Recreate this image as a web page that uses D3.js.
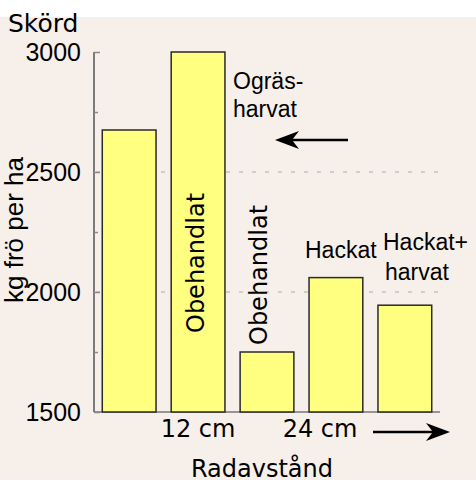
<!DOCTYPE html>
<html>
<head>
<meta charset="utf-8">
<script src="https://cdn.jsdelivr.net/npm/d3@7"></script>
<style>
  body { margin: 0; background: #fff; }
  svg { display: block; }
</style>
</head>
<body>
<div id="chart"></div>
<script>
// data
const categories = ["ograsharvat", "obeh12", "obeh24", "hackat", "hackatharvat"];
const yields = [2675, 3000, 1750, 2060, 1945];
const majorTicks = [1500, 2000, 2500, 3000];
const minorTicks = [1750, 2250, 2750];
const gridValues = [2000, 2500];

const W = 476, H = 488;
const comic = "'Comic Sans MS', 'DejaVu Sans', sans-serif";
const arial = "'Liberation Sans', Arial, sans-serif";

const svg = d3.select("#chart").append("svg")
  .attr("width", W)
  .attr("height", H);

svg.append("defs").append("clipPath").attr("id", "clip")
  .append("rect").attr("x", 0).attr("y", 0).attr("width", W).attr("height", 480);

svg.append("rect")
  .attr("x", 0).attr("y", 17).attr("width", W).attr("height", 463)
  .attr("fill", "#f7f0ea");

const g = svg.append("g").attr("clip-path", "url(#clip)");

const x = d3.scaleBand().domain(categories).range([94, 440]).paddingInner(0.22).paddingOuter(0.12);
const y = d3.scaleLinear().domain([1500, 3000]).range([412, 52]);

// gridlines
g.selectAll(".grid").data(gridValues).enter().append("line")
  .attr("x1", 96).attr("x2", 440)
  .attr("y1", d => y(d)).attr("y2", d => y(d))
  .attr("stroke", "#aaa").attr("stroke-width", 1)
  .attr("stroke-dasharray", "4,9");

// baseline
g.append("line")
  .attr("x1", 94).attr("x2", 440)
  .attr("y1", y(1500)).attr("y2", y(1500))
  .attr("stroke", "#777").attr("stroke-width", 1.5);

// y axis
const axisX = 94;
g.append("line")
  .attr("x1", axisX).attr("x2", axisX)
  .attr("y1", y(3000)).attr("y2", y(1500))
  .attr("stroke", "#555").attr("stroke-width", 1.5);

const major = g.append("g").attr("transform", `translate(${axisX},0)`)
  .call(d3.axisRight(y).tickValues(majorTicks).tickSize(6).tickFormat(""));
const minor = g.append("g").attr("transform", `translate(${axisX},0)`)
  .call(d3.axisRight(y).tickValues(minorTicks).tickSize(4).tickFormat(""));
[major, minor].forEach(a => {
  a.select(".domain").remove();
  a.selectAll("line").attr("stroke", "#888").attr("stroke-width", 1.5);
});

const labels = g.append("g").attr("transform", `translate(${axisX},0)`)
  .call(d3.axisLeft(y).tickValues(majorTicks).tickSize(0).tickPadding(13).tickFormat(d3.format("d")));
labels.select(".domain").remove();
labels.selectAll("text")
  .attr("fill", "#000")
  .style("font-family", arial)
  .style("font-size", "25px");

// bars
g.selectAll(".bar").data(yields).enter().append("rect")
  .attr("class", "bar")
  .attr("x", (d, i) => x(categories[i]))
  .attr("width", x.bandwidth())
  .attr("y", d => y(d))
  .attr("height", d => y(1500) - y(d))
  .attr("fill", "#ffff80")
  .attr("stroke", "#2a2a2a")
  .attr("stroke-width", 1.5);

// titles
g.append("text").attr("x", 8).attr("y", 32)
  .style("font-family", comic).style("font-size", "25px")
  .text("Skörd");

g.append("text")
  .attr("transform", "translate(23,230) rotate(-90)")
  .attr("text-anchor", "middle")
  .style("font-family", arial).style("font-size", "26px")
  .text("kg frö per ha");

g.append("text").attr("x", 262).attr("y", 477)
  .attr("text-anchor", "middle")
  .style("font-family", comic).style("font-size", "24px")
  .text("Radavstånd");

g.append("text").attr("x", x(categories[1]) + x.bandwidth() / 2).attr("y", 437)
  .attr("text-anchor", "middle")
  .style("font-family", comic).style("font-size", "24px")
  .text("12 cm");

g.append("text").attr("x", 320).attr("y", 437)
  .attr("text-anchor", "middle")
  .style("font-family", comic).style("font-size", "24px")
  .text("24 cm");

// bar annotations
g.append("text")
  .attr("transform", `translate(${x(categories[1]) + 33},333) rotate(-90)`)
  .style("font-family", comic).style("font-size", "24px")
  .text("Obehandlat");

g.append("text")
  .attr("transform", `translate(${x(categories[2]) + 27},345) rotate(-90)`)
  .style("font-family", comic).style("font-size", "24px")
  .text("Obehandlat");

g.append("text").attr("x", 233).attr("y", 89)
  .style("font-family", arial).style("font-size", "23px")
  .text("Ogräs-");
g.append("text").attr("x", 233).attr("y", 117)
  .style("font-family", arial).style("font-size", "23px")
  .text("harvat");

g.append("text").attr("x", 305).attr("y", 258)
  .style("font-family", arial).style("font-size", "23px")
  .text("Hackat");
g.append("text").attr("x", 383).attr("y", 250)
  .style("font-family", arial).style("font-size", "23px")
  .text("Hackat+");
g.append("text").attr("x", 385).attr("y", 280)
  .style("font-family", arial).style("font-size", "23px")
  .text("harvat");

// arrows
function arrow(x1, x2, yy) {
  const dir = Math.sign(x2 - x1);
  g.append("line")
    .attr("x1", x1).attr("x2", x2 - dir * 16)
    .attr("y1", yy).attr("y2", yy)
    .attr("stroke", "#000").attr("stroke-width", 2.5);
  g.append("path")
    .attr("d", `M${x2},${yy} L${x2 - dir * 24},${yy - 9} L${x2 - dir * 17},${yy} L${x2 - dir * 24},${yy + 9} Z`)
    .attr("fill", "#000");
}
arrow(348, 275, 140);
arrow(373, 450, 432);
</script>
</body>
</html>
